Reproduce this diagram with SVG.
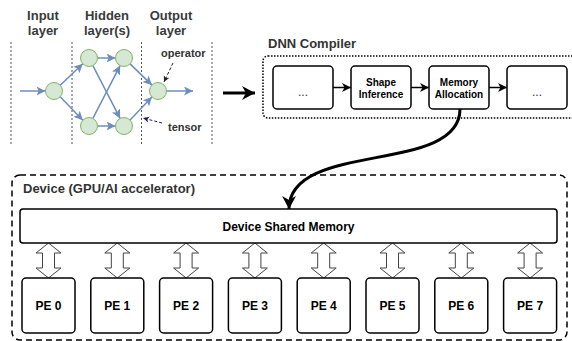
<svg xmlns="http://www.w3.org/2000/svg" width="572" height="341" viewBox="0 0 572 341">
<style>
text{font-family:"Liberation Sans",Arial,sans-serif;font-weight:bold}
.lay{font-size:13px;fill:#3a3a3a;text-anchor:middle}
.title{font-size:13px;fill:#333}
.ann{font-size:11px;fill:#333}
.box{fill:#fff;stroke:#000;stroke-width:1.5}
.bt{font-size:10px;fill:#000;text-anchor:middle}
.pt{font-size:12px;fill:#000;text-anchor:middle}
.dots{fill:#333;font-weight:normal;font-size:12px;text-anchor:middle}
.nn{fill:#d5e8d4;stroke:#82b366;stroke-width:1}
.edge{stroke:#6c8ebf;stroke-width:1.5;fill:none;marker-end:url(#ba)}
.vl{stroke:#555;stroke-width:1;stroke-dasharray:2 2}
.dash{stroke-width:1;stroke-dasharray:3 2;fill:none}
.ca{stroke:#000;stroke-width:1.5;fill:none;marker-end:url(#ka)}
.dbl{fill:#fff;stroke:#444;stroke-width:1}
</style>
<defs>
<marker id="ba" markerUnits="userSpaceOnUse" markerWidth="11" markerHeight="11" refX="9" refY="4.5" orient="auto"><path d="M0,0 L9,4.5 L0,9 L2.2,4.5 z" fill="#6c8ebf"/></marker>
<marker id="da" markerUnits="userSpaceOnUse" markerWidth="8" markerHeight="8" refX="6" refY="3" orient="auto"><path d="M0,0 L6,3 L0,6 L1.5,3 z" fill="#1a1a6e"/></marker>
<marker id="dk" markerUnits="userSpaceOnUse" markerWidth="8" markerHeight="8" refX="6" refY="3" orient="auto"><path d="M0,0 L6,3 L0,6 L1.5,3 z" fill="#222"/></marker>
<marker id="ka" markerUnits="userSpaceOnUse" markerWidth="12" markerHeight="12" refX="9" refY="4.5" orient="auto"><path d="M0,0 L9,4.5 L0,9 L2.5,4.5 z" fill="#000"/></marker>
<marker id="kb" markerUnits="userSpaceOnUse" markerWidth="16" markerHeight="16" refX="13" refY="7" orient="auto"><path d="M0,0 L13,7 L0,14 L4,7 z" fill="#000"/></marker>
</defs>

<g id="nn-labels">
<text class="lay" x="43" y="19.5">Input</text><text class="lay" x="43" y="34.5">layer</text>
<text class="lay" x="107" y="19.5">Hidden</text><text class="lay" x="107" y="34.5">layer(s)</text>
<text class="lay" x="171" y="19.5">Output</text><text class="lay" x="171" y="34.5">layer</text>
</g>
<g id="nn-dividers">
<line class="vl" x1="11" y1="42" x2="11" y2="145"/>
<line class="vl" x1="72" y1="42" x2="72" y2="145"/>
<line class="vl" x1="141.5" y1="42" x2="141.5" y2="145"/>
<line class="vl" x1="212" y1="42" x2="212" y2="145"/>
</g>

<g id="connectors">
<line class="edge" x1="20" y1="91" x2="45.5" y2="91"/>
<line class="edge" x1="60.2" y1="85.2" x2="82.8" y2="63.8"/>
<line class="edge" x1="60.2" y1="96.8" x2="82.8" y2="120.2"/>
<line class="edge" x1="97.5" y1="58" x2="115.5" y2="58"/>
<line class="edge" x1="97.5" y1="126" x2="115.5" y2="126"/>
<line class="edge" x1="92.9" y1="65.6" x2="120.1" y2="118.4"/>
<line class="edge" x1="92.9" y1="118.4" x2="120.1" y2="65.6"/>
<line class="edge" x1="130.1" y1="63.9" x2="151.9" y2="85.1"/>
<line class="edge" x1="130.1" y1="120.1" x2="151.9" y2="96.9"/>
<line class="edge" x1="166.5" y1="91" x2="193" y2="91"/>
<line class="dash" stroke="#222" marker-end="url(#dk)" x1="173" y1="63" x2="164" y2="82"/>
<line class="dash" stroke="#1a1a6e" marker-end="url(#da)" x1="162" y1="123" x2="143" y2="118"/>
<line stroke="#000" stroke-width="3" marker-end="url(#kb)" x1="223" y1="93" x2="255" y2="93"/>
<line class="ca" x1="333" y1="87.5" x2="351" y2="87.5"/>
<line class="ca" x1="411" y1="87.5" x2="429" y2="87.5"/>
<line class="ca" x1="489" y1="87.5" x2="507" y2="87.5"/>
<path d="M460,109 C460,175 289,140 289,209" stroke="#000" stroke-width="3" fill="none" marker-end="url(#kb)"/>
<g id="mem-links">
<path class="dbl" d="M48.5,243 l12.5,10 h-6.5 v15 h6.5 l-12.5,10 l-12.5,-10 h6.5 v-15 h-6.5 z"/>
<path class="dbl" d="M117.3,243 l12.5,10 h-6.5 v15 h6.5 l-12.5,10 l-12.5,-10 h6.5 v-15 h-6.5 z"/>
<path class="dbl" d="M186.1,243 l12.5,10 h-6.5 v15 h6.5 l-12.5,10 l-12.5,-10 h6.5 v-15 h-6.5 z"/>
<path class="dbl" d="M254.9,243 l12.5,10 h-6.5 v15 h6.5 l-12.5,10 l-12.5,-10 h6.5 v-15 h-6.5 z"/>
<path class="dbl" d="M323.7,243 l12.5,10 h-6.5 v15 h6.5 l-12.5,10 l-12.5,-10 h6.5 v-15 h-6.5 z"/>
<path class="dbl" d="M392.5,243 l12.5,10 h-6.5 v15 h6.5 l-12.5,10 l-12.5,-10 h6.5 v-15 h-6.5 z"/>
<path class="dbl" d="M461.3,243 l12.5,10 h-6.5 v15 h6.5 l-12.5,10 l-12.5,-10 h6.5 v-15 h-6.5 z"/>
<path class="dbl" d="M530.1,243 l12.5,10 h-6.5 v15 h6.5 l-12.5,10 l-12.5,-10 h6.5 v-15 h-6.5 z"/>
</g>
</g>

<g id="nn-nodes">
<circle id="n-in" class="nn" cx="54" cy="91" r="8.5"/>
<circle id="n-h1t" class="nn" cx="89" cy="58" r="8.5"/>
<circle id="n-h1b" class="nn" cx="89" cy="126" r="8.5"/>
<circle id="n-h2t" class="nn" cx="124" cy="58" r="8.5"/>
<circle id="n-h2b" class="nn" cx="124" cy="126" r="8.5"/>
<circle id="n-out" class="nn" cx="158" cy="91" r="8.5"/>
</g>
<g id="annotations">
<text class="ann" x="161" y="57">operator</text>
<text class="ann" x="168" y="131">tensor</text>
</g>

<g id="compiler">
<rect x="263" y="56" width="330" height="62" rx="5" fill="none" stroke="#000" stroke-width="1.5" stroke-dasharray="1.5 1.5"/>
<text class="title" x="268" y="47.5">DNN Compiler</text>
</g>
<g id="c1"><rect class="box" x="273" y="66" width="60" height="43" rx="4"/><text class="dots" x="303" y="96">...</text></g>
<g id="c2"><rect class="box" x="351" y="66" width="60" height="43" rx="4"/><text class="bt" x="381" y="86">Shape</text><text class="bt" x="381" y="97.5">Inference</text></g>
<g id="c3"><rect class="box" x="429" y="66" width="60" height="43" rx="4"/><text class="bt" x="459" y="86">Memory</text><text class="bt" x="459" y="97.5">Allocation</text></g>
<g id="c4"><rect class="box" x="507" y="66" width="60" height="43" rx="4"/><text class="dots" x="537" y="96">...</text></g>

<g id="device">
<rect x="12" y="175" width="555" height="165" rx="8" fill="none" stroke="#000" stroke-width="1.5" stroke-dasharray="6 4"/>
<text class="title" x="23" y="192.5">Device (GPU/AI accelerator)</text>
</g>
<g id="shared-mem"><rect class="box" x="20" y="209" width="537" height="34" rx="3"/><text class="pt" x="288.5" y="230.5">Device Shared Memory</text></g>
<g id="pe0"><rect class="box" x="22" y="278" width="53" height="55" rx="4"/><text class="pt" x="48.5" y="310">PE 0</text></g>
<g id="pe1"><rect class="box" x="90.8" y="278" width="53" height="55" rx="4"/><text class="pt" x="117.3" y="310">PE 1</text></g>
<g id="pe2"><rect class="box" x="159.6" y="278" width="53" height="55" rx="4"/><text class="pt" x="186.1" y="310">PE 2</text></g>
<g id="pe3"><rect class="box" x="228.4" y="278" width="53" height="55" rx="4"/><text class="pt" x="254.9" y="310">PE 3</text></g>
<g id="pe4"><rect class="box" x="297.2" y="278" width="53" height="55" rx="4"/><text class="pt" x="323.7" y="310">PE 4</text></g>
<g id="pe5"><rect class="box" x="366" y="278" width="53" height="55" rx="4"/><text class="pt" x="392.5" y="310">PE 5</text></g>
<g id="pe6"><rect class="box" x="434.8" y="278" width="53" height="55" rx="4"/><text class="pt" x="461.3" y="310">PE 6</text></g>
<g id="pe7"><rect class="box" x="503.6" y="278" width="53" height="55" rx="4"/><text class="pt" x="530.1" y="310">PE 7</text></g>
</svg>
